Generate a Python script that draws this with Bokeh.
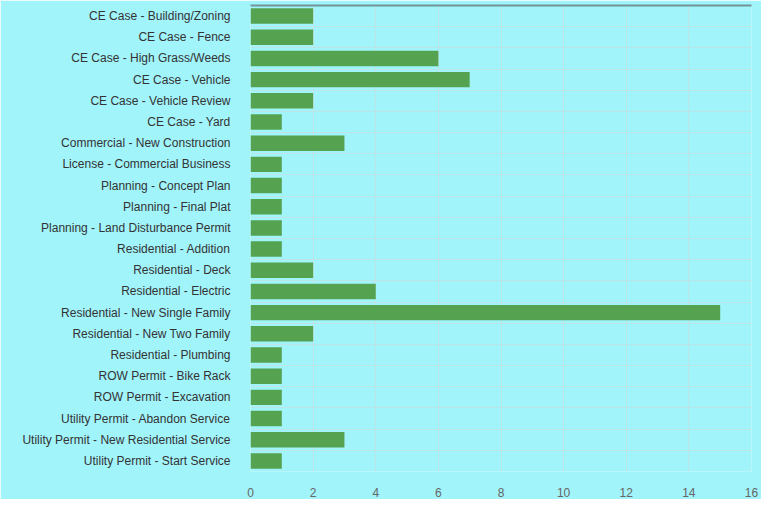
from bokeh.plotting import figure
from bokeh.models import Range1d, FixedTicker, LinearAxis
from bokeh.embed import file_html
from bokeh.resources import INLINE

categories = [
    "CE Case - Building/Zoning",
    "CE Case - Fence",
    "CE Case - High Grass/Weeds",
    "CE Case - Vehicle",
    "CE Case - Vehicle Review",
    "CE Case - Yard",
    "Commercial - New Construction",
    "License - Commercial Business",
    "Planning - Concept Plan",
    "Planning - Final Plat",
    "Planning - Land Disturbance Permit",
    "Residential - Addition",
    "Residential - Deck",
    "Residential - Electric",
    "Residential - New Single Family",
    "Residential - New Two Family",
    "Residential - Plumbing",
    "ROW Permit - Bike Rack",
    "ROW Permit - Excavation",
    "Utility Permit - Abandon Service",
    "Utility Permit - New Residential Service",
    "Utility Permit - Start Service",
]
counts = [2, 2, 6, 7, 2, 1, 3, 1, 1, 1, 1, 1, 2, 4, 15, 2, 1, 1, 1, 1, 3, 1]
x_ticks = [0, 2, 4, 6, 8, 10, 12, 14, 16]

n = len(categories)
pos = list(range(n))
bg = "#a2f4fb"

p = figure(width=761, height=499, output_backend="svg", toolbar_location=None,
           x_range=Range1d(0, 16), y_range=Range1d(n - 0.5, -0.5),
           min_border_left=250, min_border_right=10, min_border_top=5, min_border_bottom=0)
p.background_fill_color = bg
p.border_fill_color = bg
p.outline_line_color = None

p.hbar(y=pos, right=counts, left=0, height=0.73, fill_color="#55a351", line_color=None)

p.xaxis.ticker = FixedTicker(ticks=x_ticks)
p.xaxis.axis_line_color = None
p.xaxis.major_tick_line_color = None
p.xaxis.minor_tick_line_color = None
p.xaxis.major_label_text_color = "#666666"
p.xaxis.major_label_text_font = "Liberation Sans"
p.xaxis.major_label_text_font_size = "12px"
p.xaxis.major_label_standoff = 10

p.yaxis.ticker = FixedTicker(ticks=pos)
p.yaxis.major_label_overrides = {i: c for i, c in enumerate(categories)}
p.yaxis.axis_line_color = None
p.yaxis.major_tick_line_color = None
p.yaxis.minor_tick_line_color = None
p.yaxis.major_label_text_color = "#333333"
p.yaxis.major_label_text_font = "Liberation Sans"
p.yaxis.major_label_text_font_size = "12px"
p.yaxis.major_label_standoff = 14

p.xgrid.ticker = FixedTicker(ticks=x_ticks)
p.xgrid.grid_line_color = "#c9dede"
p.xgrid.grid_line_alpha = 0.7
p.ygrid.ticker = FixedTicker(ticks=[i + 0.5 for i in range(-1, n)])
p.ygrid.grid_line_color = "#c9dede"
p.ygrid.grid_line_alpha = 0.7

top = LinearAxis(ticker=FixedTicker(ticks=[]), major_tick_line_color=None,
                 minor_tick_line_color=None, axis_line_color="#6f9598", axis_line_width=2,
                 major_label_standoff=0)
p.add_layout(top, "above")

open("out.html", "w").write(file_html(p, INLINE))
